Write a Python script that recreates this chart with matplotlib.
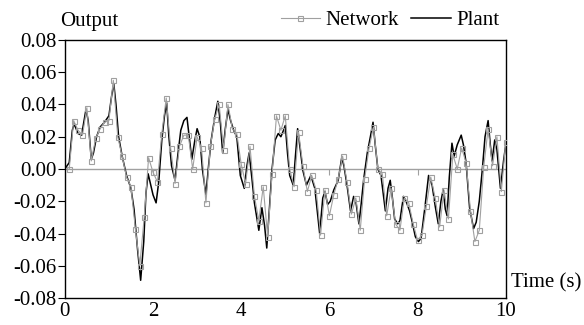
import numpy as np
import matplotlib
matplotlib.use("Agg")
from matplotlib import pyplot as plt

plt.rcParams['font.family'] = 'Liberation Serif'
plt.rcParams['axes.unicode_minus'] = False

# network output, sampled every 0.1 s (t = 0.1 ... 10.0)
net_t = np.arange(1, 101) / 10.0
net_y = [0.000, 0.030, 0.024, 0.021, 0.038, 0.005, 0.019, 0.025, 0.029, 0.030,
         0.055, 0.020, 0.008, -0.005, -0.011, -0.037, -0.060, -0.030, 0.007, -0.002,
         -0.008, 0.022, 0.044, 0.013, -0.009, 0.014, 0.021, 0.021, 0.000, 0.020,
         0.013, -0.021, 0.014, 0.031, 0.040, 0.012, 0.040, 0.025, 0.022, 0.003,
         -0.009, 0.014, -0.017, -0.032, -0.011, -0.042, -0.003, 0.033, 0.024, 0.033,
         0.000, -0.011, 0.023, 0.002, -0.014, -0.004, -0.013, -0.041, -0.013, -0.029,
         -0.016, -0.006, 0.008, -0.008, -0.028, -0.018, -0.038, -0.006, 0.013, 0.026,
         0.000, -0.003, -0.029, -0.012, -0.034, -0.038, -0.018, -0.021, -0.034, -0.044,
         -0.041, -0.023, -0.005, -0.018, -0.036, -0.013, -0.031, 0.009, 0.000, 0.013,
         0.004, -0.026, -0.045, -0.038, 0.001, 0.025, 0.002, 0.020, -0.014, 0.017]

# plant output, points
plant_t = [0.00, 0.10, 0.17, 0.21, 0.30, 0.38, 0.48, 0.53, 0.60, 0.65,
           0.72, 0.80, 0.90, 1.00, 1.06, 1.11, 1.16, 1.22, 1.30, 1.40,
           1.50, 1.57, 1.65, 1.72, 1.79, 1.84, 1.89, 1.95, 2.00, 2.07,
           2.13, 2.20, 2.26, 2.31, 2.36, 2.42, 2.50, 2.56, 2.63, 2.70,
           2.77, 2.82, 2.88, 2.95, 3.00, 3.06, 3.12, 3.20, 3.26, 3.32,
           3.40, 3.47, 3.53, 3.58, 3.64, 3.70, 3.76, 3.83, 3.90, 3.98,
           4.07, 4.13, 4.18, 4.24, 4.30, 4.40, 4.47, 4.53, 4.58, 4.64,
           4.70, 4.77, 4.84, 4.90, 4.96, 5.00, 5.05, 5.10, 5.18, 5.23,
           5.28, 5.34, 5.40, 5.48, 5.58, 5.67, 5.72, 5.78, 5.85, 5.90,
           5.96, 6.02, 6.10, 6.20, 6.28, 6.33, 6.40, 6.48, 6.55, 6.60,
           6.67, 6.72, 6.78, 6.86, 6.93, 6.99, 7.04, 7.10, 7.17, 7.22,
           7.27, 7.33, 7.38, 7.43, 7.48, 7.55, 7.60, 7.68, 7.74, 7.82,
           7.88, 7.95, 8.02, 8.08, 8.17, 8.25, 8.33, 8.40, 8.47, 8.53,
           8.58, 8.63, 8.67, 8.72, 8.78, 8.83, 8.90, 8.99, 9.04, 9.10,
           9.18, 9.27, 9.33, 9.40, 9.47, 9.53, 9.60, 9.65, 9.69, 9.75,
           9.80, 9.88, 9.95, 10.00]
plant_y = [0.000, 0.004, 0.024, 0.028, 0.022, 0.021, 0.037, 0.030, 0.006, 0.010,
           0.020, 0.026, 0.029, 0.033, 0.045, 0.053, 0.040, 0.020, 0.008, -0.004,
           -0.012, -0.025, -0.050, -0.069, -0.045, -0.015, -0.003, -0.010, -0.016, -0.021,
           -0.008, 0.018, 0.033, 0.041, 0.020, 0.002, -0.007, 0.008, 0.024, 0.030,
           0.032, 0.020, 0.006, 0.018, 0.025, 0.020, 0.000, -0.016, 0.002, 0.018,
           0.032, 0.042, 0.028, 0.010, 0.025, 0.037, 0.030, 0.024, 0.020, -0.004,
           -0.012, 0.002, 0.010, -0.005, -0.021, -0.038, -0.024, -0.035, -0.049, -0.025,
           0.000, 0.018, 0.022, 0.020, 0.024, 0.027, 0.010, -0.004, -0.010, 0.008,
           0.025, 0.012, -0.001, -0.010, -0.004, -0.012, -0.025, -0.040, -0.018, -0.014,
           -0.022, -0.020, -0.013, -0.007, 0.007, 0.002, -0.010, -0.026, -0.017, -0.020,
           -0.034, -0.022, -0.006, 0.010, 0.020, 0.029, 0.015, 0.000, -0.004, -0.015,
           -0.026, -0.012, -0.007, -0.018, -0.031, -0.034, -0.032, -0.017, -0.020, -0.026,
           -0.033, -0.042, -0.045, -0.043, -0.023, -0.004, -0.010, -0.023, -0.034, -0.020,
           -0.013, -0.025, -0.029, -0.005, 0.016, 0.008, 0.015, 0.021, 0.015, 0.004,
           -0.024, -0.037, -0.033, -0.020, 0.000, 0.020, 0.030, 0.015, 0.005, 0.018,
           0.012, -0.012, 0.005, 0.015]

x_ticks = [0, 2, 4, 6, 8, 10]
y_ticks = [-0.08, -0.06, -0.04, -0.02, 0.00, 0.02, 0.04, 0.06, 0.08]

fig = plt.figure(figsize=(5.84, 3.25), dpi=100)
ax = fig.add_axes([0.111, 0.083, 0.755, 0.794])

gray = '#a0a0a0'
ax.axhline(0, color=gray, lw=1.0, zorder=1)
plant, = ax.plot(plant_t, plant_y, color='black', lw=1.1, zorder=2, label='Plant')
net, = ax.plot(net_t, net_y, color=gray, lw=0.8, marker='s', markersize=3.6,
               mfc='none', mec=gray, mew=0.8, zorder=3, label='Network')

ax.set_xlim(0, 10)
ax.set_ylim(-0.08, 0.08)
ax.set_xticks(x_ticks)
ax.set_xticklabels([str(v) for v in x_ticks])
ax.set_yticks(y_ticks)
ax.set_yticklabels(['%.2f' % v for v in y_ticks])
ax.tick_params(axis='x', length=0, pad=3, labelsize=15)
ax.tick_params(axis='y', direction='out', length=5, width=0.8, pad=1, labelsize=15)
for s in ax.spines.values():
    s.set_linewidth(1.0)
    s.set_color('black')

# small ticks along the zero line
zero_ax = ax.secondary_xaxis(0.5)
zero_ax.set_xticks([2, 4, 6, 8])
zero_ax.set_xticklabels([])
zero_ax.tick_params(direction='in', length=4, width=0.8, color=gray)
zero_ax.spines['top'].set_visible(False)
zero_ax.spines['bottom'].set_visible(False)

ax.text(-0.01, 1.07, 'Output', transform=ax.transAxes, fontsize=15,
        ha='left', va='center')
ax.text(1.012, 0.058, 'Time (s)', transform=ax.transAxes, fontsize=15,
        ha='left', va='center')

ax.legend(handles=[net, plant], loc='center right', bbox_to_anchor=(0.985, 1.075),
          ncol=2, frameon=False, fontsize=15, handlelength=1.9,
          handletextpad=0.25, columnspacing=0.6, borderpad=0, borderaxespad=0)

fig.savefig('out.png', dpi=100)
